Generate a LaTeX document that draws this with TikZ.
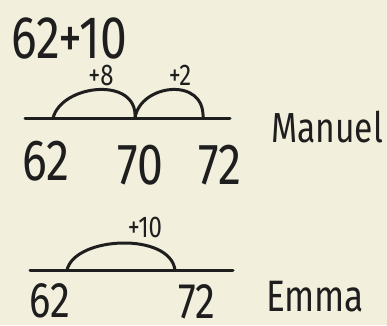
\documentclass[tikz,border=0pt]{standalone}
\usepackage{fontspec}
\newfontfamily\hand[FakeStretch=0.8]{Fira Sans}
\definecolor{paper}{HTML}{F3EFDD}
\definecolor{ink}{HTML}{1E1E1E}
\begin{document}
\begin{tikzpicture}[x=1pt, y=-1pt, line width=3pt, line cap=round, draw=ink,
    every node/.style={text=ink, inner sep=0pt},
    big/.style={font=\hand\fontsize{58}{58}\selectfont},
    low/.style={font=\hand\fontsize{50}{50}\selectfont},
    small/.style={font=\hand\fontsize{30}{30}\selectfont},
    who/.style={font=\hand\fontsize{42}{42}\selectfont}]
    \fill[paper] (0,0) rectangle (387,325);
    \useasboundingbox (0,0) rectangle (387,325);

    % the sum
    \node[big, font=\hand\fontsize{60}{60}\selectfont] (sum) at (69,38) {62+10};

    % Manuel: two hops
    \coordinate (mL) at (25,118);
    \coordinate (mR) at (230,118);
    \coordinate (m62) at (53,118);
    \coordinate (m70) at (135,118);
    \coordinate (m72) at (203,118);
    \draw (mL) -- (mR);
    \draw (m62) .. controls (62,84) and (138,76) .. (m70);
    \draw (m70) .. controls (140,84) and (205,76) .. (m72);
    \node[small] (p8) at (101,75) {+8};
    \node[small] (p2) at (180,75) {+2};
    \node[big] (n62a) at (46,161) {62};
    \node[big] (n70) at (140,165) {70};
    \node[big] (n72a) at (220,165) {72};
    \node[who] (manuel) at (327,127) {Manuel};

    % Emma: one hop
    \coordinate (eL) at (30,270);
    \coordinate (eR) at (233,270);
    \coordinate (e62) at (67,270);
    \coordinate (e72) at (175,270);
    \draw (eL) -- (eR);
    \draw (e62) .. controls (75,236) and (170,232) .. (e72);
    \node[small] (p10) at (145,227) {+10};
    \node[low] (n62b) at (50,301) {62};
    \node[low] (n72b) at (197,302) {72};
    \node[who, font=\hand\fontsize{44}{44}\selectfont] (emma) at (315,297) {Emma};
\end{tikzpicture}
\end{document}
